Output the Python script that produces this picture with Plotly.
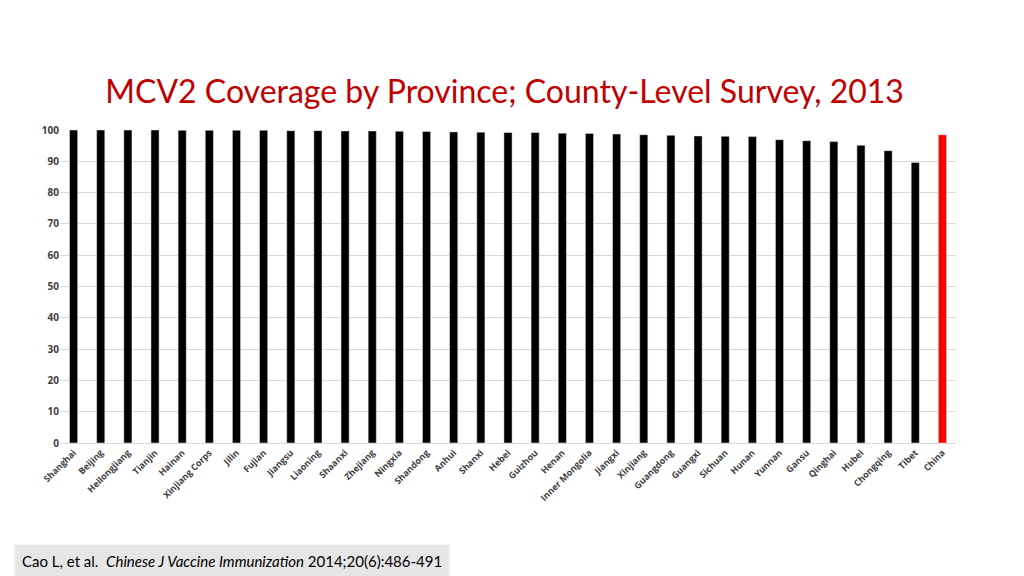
import plotly.graph_objects as go

provinces = ["Shanghai","Beijing","Heilongjiang","Tianjin","Hainan","Xinjiang Corps","Jilin","Fujian","Jiangsu","Liaoning","Shaanxi","Zhejiang","Ningxia","Shandong","Anhui","Shanxi","Hebei","Guizhou","Henan","Inner Mongolia","Jiangxi","Xinjiang","Guangdong","Guangxi","Sichuan","Hunan","Yunnan","Gansu","Qinghai","Hubei","Chongqing","Tibet","China"]
coverage = [100,100,100,100,99.9,99.9,99.9,99.9,99.8,99.8,99.7,99.7,99.6,99.5,99.4,99.3,99.2,99.2,99.0,98.9,98.7,98.5,98.3,98.1,98.0,97.9,96.9,96.6,96.3,95.1,93.4,89.6,98.5]
colors = ["#000000"]*(len(provinces)-1) + ["#FF0000"]

fig = go.Figure(go.Bar(x=provinces, y=coverage, marker_color=colors, width=0.3))
fig.update_layout(
    width=1024, height=576, plot_bgcolor="white", paper_bgcolor="white",
    margin=dict(l=52, r=76, t=122, b=141), showlegend=False,
    font=dict(family="Open Sans", color="#404040"),
    title=dict(text="MCV2 Coverage by Province; County-Level Survey, 2013", x=0.485, xanchor="center", y=0.855, yanchor="middle",
               font=dict(size=32, color="#C00000", family="Lato")),
    bargap=0.7,
)
fig.update_yaxes(range=[0,100], dtick=10, gridcolor="#D9D9D9", tickfont=dict(size=10, color="#404040", weight="bold"), showline=False, zeroline=False)
fig.update_xaxes(tickangle=-45, tickfont=dict(size=9, color="#404040", weight="bold"), showline=True, linecolor="#D9D9D9")
fig.add_annotation(text="Cao L, et al.  <i>Chinese J Vaccine Immunization</i> 2014;20(6):486-491", xref="paper", yref="paper",
                   x=-0.051, y=(443-561)/313, xanchor="left", yanchor="middle", showarrow=False,
                   font=dict(size=15, color="#000000", family="Lato"), bgcolor="#E7E6E6", borderpad=7)
fig.write_html("out.html")
